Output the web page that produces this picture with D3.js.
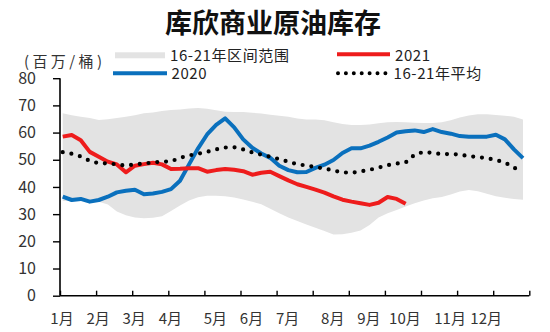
<!DOCTYPE html>
<html><head><meta charset="utf-8">
<script src="https://cdn.jsdelivr.net/npm/d3@7"></script>
<style>
html,body{margin:0;padding:0;background:#fff;}
svg text{font-family:"Noto Sans CJK SC","Noto Sans",sans-serif;}
</style></head>
<body><svg id="c" width="550" height="332"></svg>
<script>
const title = "库欣商业原油库存";
const unitLabel = "(百万/桶)";
const monthLabels = ["1月","2月","3月","4月","5月","6月","7月","8月","9月","10月","11月","12月"];
const monthWeeks = [0,4,8,12,17,21,25,30,34,38,43,47];
const yTicks = [0,10,20,30,40,50,60,70,80];
const legendNames = ["16-21年区间范围","2021","2020","16-21年平均"];

const upper = [67.1,66.4,65.8,65.4,64.6,64.9,65.4,65.8,66.4,67.1,
  67.4,67.9,68.3,68.5,68.9,69.0,68.8,68.2,67.7,67.6,
  67.6,67.3,67.0,66.6,66.2,65.8,65.2,64.8,64.8,64.5,
  63.8,63.2,62.8,62.8,63.0,63.4,63.8,63.9,63.8,63.6,
  63.5,63.5,63.8,64.5,65.5,66.3,66.7,66.7,66.5,66.2,65.8,64.8];
const lower = [34.8,34.8,34.8,34.8,34.6,33.5,31.0,29.6,28.8,28.5,
  28.7,29.2,31.2,33.2,35.0,36.2,36.8,36.8,36.6,36.1,
  35.4,34.6,33.6,32.0,30.3,28.8,27.5,26.2,25.0,23.8,
  22.5,22.6,23.2,24.0,26.0,28.8,30.3,31.5,32.8,34.0,
  35.0,35.8,36.3,37.2,38.3,38.9,38.4,37.5,36.6,36.0,35.6,35.3];
const s2021 = [58.5,59.1,57.2,52.9,51.1,49.3,48.3,45.4,47.8,48.4,
  48.9,48.3,46.6,46.7,46.9,46.9,45.6,46.2,46.6,46.3,
  45.8,44.5,45.2,45.6,44.0,42.4,41.0,40.0,39.0,37.9,
  36.5,35.3,34.6,34.0,33.4,34.2,36.3,35.6,33.8];
const s2020 = [36.4,35.2,35.6,34.6,35.2,36.4,38.0,38.6,39.0,37.3,
  37.6,38.2,39.2,42.3,48.3,54.2,59.3,62.8,65.2,61.9,
  57.5,54.4,52.3,50.7,47.8,46.2,45.4,45.5,47.0,48.2,
  49.9,52.5,54.2,54.2,55.2,56.6,58.2,60.0,60.5,60.8,
  60.2,61.3,60.2,59.6,58.7,58.5,58.5,58.5,59.2,57.5,53.8,50.6];
const avg = [52.8,52.2,51.2,49.6,48.7,48.7,48.3,47.8,48.3,48.6,
  49.0,49.3,49.4,50.7,51.6,52.2,52.9,53.8,54.5,54.6,
  53.8,52.7,51.9,51.1,50.2,49.3,48.3,47.9,47.3,46.8,
  46.0,45.4,45.2,45.7,46.3,47.1,48.0,48.6,49.0,51.9,
  52.9,52.5,52.1,52.1,51.9,51.3,51.0,50.6,49.9,49.0,47.1,45.5];

const svg = d3.select("#c");
const x = d3.scaleLinear().domain([0,52]).range([60,529.3]);
const y = d3.scaleLinear().domain([0,80]).range([295.7,78.2]);
const px = i => x(i + 0.3);

// band
const area = d3.area().x((d,i)=>px(i)).y0((d,i)=>y(lower[i])).y1(d=>y(d));
svg.append("path").datum(upper).attr("d", area).attr("fill","#e3e3e3");

// lines
const line = d3.line().x((d,i)=>px(i)).y(d=>y(d));
svg.append("path").datum(s2020).attr("d",line).attr("fill","none")
  .attr("stroke","#0a70bd").attr("stroke-width",4).attr("stroke-linejoin","round");
svg.append("path").datum(s2021).attr("d",line).attr("fill","none")
  .attr("stroke","#ee1c1c").attr("stroke-width",4).attr("stroke-linejoin","round");
svg.append("path").datum(avg).attr("d",line).attr("fill","none")
  .attr("stroke","#000").attr("stroke-width",4.2).attr("stroke-linecap","round")
  .attr("stroke-dasharray","0,8.8");

// y axis
const yAxis = svg.append("g").attr("transform","translate(60,0)")
  .call(d3.axisLeft(y).tickValues(yTicks).tickSize(7).tickPadding(17).tickFormat(d3.format("d")));
yAxis.select(".domain").attr("stroke","#000").attr("stroke-width",1.6).attr("d","M0,78.2V295.7");
yAxis.selectAll(".tick line").attr("stroke","#000").attr("stroke-width",1.4);
yAxis.selectAll("text").attr("font-size",16).attr("fill","#333");

// x axis
const xAxis = svg.append("g").attr("transform","translate(0,295.7)")
  .call(d3.axisBottom(x).tickValues(d3.range(0,53,4)).tickSize(-5).tickFormat(""));
xAxis.select(".domain").attr("stroke","#000").attr("stroke-width",1.6).attr("d","M60,0H529.3");
xAxis.selectAll(".tick line").attr("stroke","#000").attr("stroke-width",1.4);

svg.append("g").selectAll("text").data(monthLabels).join("text")
  .attr("x",(d,i)=>x(monthWeeks[i])+2).attr("y",324)
  .attr("text-anchor","middle").attr("font-size",15).attr("fill","#333").text(d=>d);

// title
svg.append("text").attr("x",273).attr("y",33).attr("text-anchor","middle")
  .attr("font-size",27).attr("font-weight","bold").attr("fill","#111").text(title);
svg.append("text").attr("x",24).attr("y",67).attr("font-size",15)
  .attr("textLength",78).attr("lengthAdjust","spacing")
  .style("font-family","'Noto Sans CJK SC'").attr("fill","#333").text(unitLabel);

// legend
const lg = svg.append("g");
lg.append("rect").attr("x",115).attr("y",52.3).attr("width",50).attr("height",6).attr("fill","#e3e3e3");
lg.append("line").attr("x1",113).attr("x2",167).attr("y1",73.3).attr("y2",73.3)
  .attr("stroke","#0a70bd").attr("stroke-width",4);
lg.append("line").attr("x1",337).attr("x2",390).attr("y1",54.3).attr("y2",54.3)
  .attr("stroke","#ee1c1c").attr("stroke-width",4);
lg.append("line").attr("x1",338).attr("x2",385.5).attr("y1",73.3).attr("y2",73.3)
  .attr("stroke","#000").attr("stroke-width",4).attr("stroke-linecap","round").attr("stroke-dasharray","0,7.9");
const lt = [[170,60.5,legendNames[0]],[395,60.5,legendNames[1]],[171.5,78.5,legendNames[2]],[393.5,78.5,legendNames[3]]];
lg.selectAll("text").data(lt).join("text").attr("x",d=>d[0]).attr("y",d=>d[1])
  .attr("font-size",15).attr("letter-spacing",0.6).attr("fill","#222").text(d=>d[2]);
</script></body></html>
